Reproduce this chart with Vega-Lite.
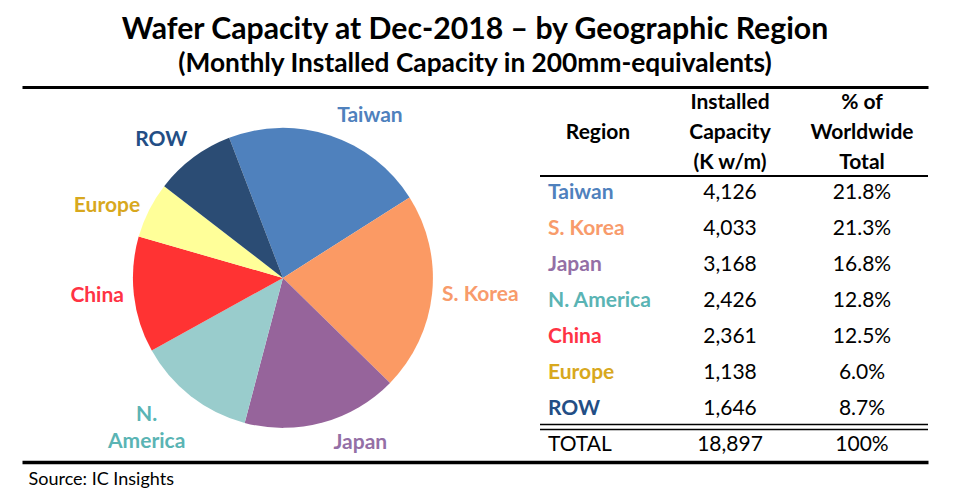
{
  "$schema": "https://vega.github.io/schema/vega-lite/v6.json",
  "width": 906, "height": 375,
  "autosize": {"type": "none"},
  "padding": {"left": 22, "right": 27, "top": 87, "bottom": 38},
  "background": "white",
  "title": {
    "text": "Wafer Capacity at Dec-2018 – by Geographic Region",
    "subtitle": "(Monthly Installed Capacity in 200mm-equivalents)",
    "font": "Lato", "fontSize": 30.2, "fontWeight": "bold", "color": "black",
    "subtitleFont": "Lato", "subtitleFontSize": 26.3, "subtitleFontWeight": "bold", "subtitleColor": "black",
    "subtitlePadding": 6, "offset": 10, "anchor": "middle", "frame": "group"
  },
  "datasets": {
    "regions": [
      {"region": "Taiwan", "pieLabel": "Taiwan", "cap": 4126, "pct": 0.218, "idx": 1},
      {"region": "S. Korea", "pieLabel": "S. Korea", "cap": 4033, "pct": 0.213, "idx": 2},
      {"region": "Japan", "pieLabel": "Japan", "cap": 3168, "pct": 0.168, "idx": 3},
      {"region": "N. America", "pieLabel": "N.\nAmerica", "cap": 2426, "pct": 0.128, "idx": 4},
      {"region": "China", "pieLabel": "China", "cap": 2361, "pct": 0.125, "idx": 5},
      {"region": "Europe", "pieLabel": "Europe", "cap": 1138, "pct": 0.06, "idx": 6},
      {"region": "ROW", "pieLabel": "ROW", "cap": 1646, "pct": 0.087, "idx": 7}
    ],
    "total": [{"region": "TOTAL", "cap": 18897, "pct": 1}],
    "header": [
      {"col": "Region", "line": "2", "label": "Region"},
      {"col": "Capacity", "line": "1", "label": "Installed"},
      {"col": "Capacity", "line": "2", "label": "Capacity"},
      {"col": "Capacity", "line": "3", "label": "(K w/m)"},
      {"col": "Pct", "line": "1", "label": "% of"},
      {"col": "Pct", "line": "2", "label": "Worldwide"},
      {"col": "Pct", "line": "3", "label": "Total"}
    ]
  },
  "layer": [
    {
      "data": {"name": "regions"},
      "mark": {"type": "arc", "radius": 150},
      "encoding": {
        "x": {"datum": "pie", "type": "nominal",
              "scale": {"type": "point", "domain": ["pie"], "padding": 0, "align": 0.288},
              "axis": {"orient": "top", "domainWidth": 3, "domainColor": "black", "labels": false, "ticks": false, "grid": false, "title": null}},
        "y": {"datum": "pie", "type": "nominal", "axis": null, "scale": {"type": "point", "domain": ["pie"], "padding": 0, "align": 0.509}},
        "theta": {"field": "cap", "type": "quantitative", "stack": true, "scale": {"range": [-0.3665, 5.9167]}},
        "order": {"field": "idx", "type": "quantitative"},
        "color": {"field": "region", "type": "nominal", "legend": null,
          "scale": {"domain": ["Taiwan", "S. Korea", "Japan", "N. America", "China", "Europe", "ROW"],
                    "range": ["#4F81BD", "#FB9A64", "#96649B", "#99CCCC", "#FF3333", "#FFFF99", "#2B4C74"]}}
      }
    },
    {
      "data": {"name": "regions"},
      "mark": {"type": "text", "radius": 160, "font": "Lato", "fontSize": 21, "fontWeight": "bold", "align": "left", "baseline": "bottom", "dx": 4},
      "encoding": {
        "x": {"datum": "pie", "type": "nominal",
              "scale": {"type": "point", "domain": ["pie"], "padding": 0, "align": 0.288},
              "axis": {"orient": "bottom", "domainWidth": 3.5, "domainColor": "black", "labels": false, "ticks": false, "grid": false,
                       "title": "Source:  IC Insights", "titleFont": "Lato", "titleFontSize": 18, "titleFontWeight": "normal", "titleColor": "black",
                       "titleAnchor": "start", "titleAlign": "left", "titleX": 6, "titlePadding": 8}},
        "y": {"datum": "pie", "type": "nominal", "axis": null, "scale": {"type": "point", "domain": ["pie"], "padding": 0, "align": 0.509}},
        "theta": {"field": "cap", "type": "quantitative", "stack": true},
        "order": {"field": "idx", "type": "quantitative"},
        "text": {"condition": {"test": "datum.region == 'Taiwan'", "field": "pieLabel"}, "value": ""},
        "color": {"value": "#4F81BD"}
      }
    },
    {
      "data": {"name": "regions"},
      "mark": {"type": "text", "radius": 160, "font": "Lato", "fontSize": 21, "fontWeight": "bold", "align": "left", "baseline": "middle"},
      "encoding": {
        "x": {"datum": "pie", "type": "nominal", "axis": null, "scale": {"type": "point", "domain": ["pie"], "padding": 0, "align": 0.288}},
        "y": {"datum": "pie", "type": "nominal", "axis": null, "scale": {"type": "point", "domain": ["pie"], "padding": 0, "align": 0.509}},
        "theta": {"field": "cap", "type": "quantitative", "stack": true},
        "order": {"field": "idx", "type": "quantitative"},
        "text": {"condition": {"test": "datum.region == 'S. Korea'", "field": "pieLabel"}, "value": ""},
        "color": {"value": "#F89B6B"}
      }
    },
    {
      "data": {"name": "regions"},
      "mark": {"type": "text", "radius": 160, "font": "Lato", "fontSize": 21, "fontWeight": "bold", "align": "left", "baseline": "top", "dx": 8},
      "encoding": {
        "x": {"datum": "pie", "type": "nominal", "axis": null, "scale": {"type": "point", "domain": ["pie"], "padding": 0, "align": 0.288}},
        "y": {"datum": "pie", "type": "nominal", "axis": null, "scale": {"type": "point", "domain": ["pie"], "padding": 0, "align": 0.509}},
        "theta": {"field": "cap", "type": "quantitative", "stack": true},
        "order": {"field": "idx", "type": "quantitative"},
        "text": {"condition": {"test": "datum.region == 'Japan'", "field": "pieLabel"}, "value": ""},
        "color": {"value": "#946FA6"}
      }
    },
    {
      "data": {"name": "regions"},
      "mark": {"type": "text", "radius": 160, "font": "Lato", "fontSize": 21, "fontWeight": "bold", "align": "center", "baseline": "top", "dx": -38, "lineBreak": "\n", "lineHeight": 27},
      "encoding": {
        "x": {"datum": "pie", "type": "nominal", "axis": null, "scale": {"type": "point", "domain": ["pie"], "padding": 0, "align": 0.288}},
        "y": {"datum": "pie", "type": "nominal", "axis": null, "scale": {"type": "point", "domain": ["pie"], "padding": 0, "align": 0.509}},
        "theta": {"field": "cap", "type": "quantitative", "stack": true},
        "order": {"field": "idx", "type": "quantitative"},
        "text": {"condition": {"test": "datum.region == 'N. America'", "field": "pieLabel"}, "value": ""},
        "color": {"value": "#5AB4B4"}
      }
    },
    {
      "data": {"name": "regions"},
      "mark": {"type": "text", "radius": 160, "font": "Lato", "fontSize": 21, "fontWeight": "bold", "align": "right", "baseline": "middle"},
      "encoding": {
        "x": {"datum": "pie", "type": "nominal", "axis": null, "scale": {"type": "point", "domain": ["pie"], "padding": 0, "align": 0.288}},
        "y": {"datum": "pie", "type": "nominal", "axis": null, "scale": {"type": "point", "domain": ["pie"], "padding": 0, "align": 0.509}},
        "theta": {"field": "cap", "type": "quantitative", "stack": true},
        "order": {"field": "idx", "type": "quantitative"},
        "text": {"condition": {"test": "datum.region == 'China' || datum.region == 'Europe'", "field": "pieLabel"}, "value": ""},
        "color": {"field": "region", "type": "nominal", "legend": null,
          "scale": {"domain": ["China", "Europe"], "range": ["#FF3344", "#D8A81E"]}}
      }
    },
    {
      "data": {"name": "regions"},
      "mark": {"type": "text", "radius": 160, "font": "Lato", "fontSize": 21, "fontWeight": "bold", "align": "right", "baseline": "bottom"},
      "encoding": {
        "x": {"datum": "pie", "type": "nominal", "axis": null, "scale": {"type": "point", "domain": ["pie"], "padding": 0, "align": 0.288}},
        "y": {"datum": "pie", "type": "nominal", "axis": null, "scale": {"type": "point", "domain": ["pie"], "padding": 0, "align": 0.509}},
        "theta": {"field": "cap", "type": "quantitative", "stack": true},
        "order": {"field": "idx", "type": "quantitative"},
        "text": {"condition": {"test": "datum.region == 'ROW'", "field": "pieLabel"}, "value": ""},
        "color": {"value": "#234E85"}
      }
    },
    {
      "data": {"name": "header"},
      "mark": {"type": "text", "font": "Lato", "fontSize": 21, "fontWeight": "bold", "color": "black", "baseline": "middle", "align": "center"},
      "encoding": {
        "x": {"field": "col", "type": "nominal", "axis": null,
              "scale": {"type": "point", "domain": ["Region", "Capacity", "Pct"], "range": [576, 840], "padding": 0}},
        "y": {"field": "line", "type": "ordinal", "axis": null,
              "scale": {"type": "point", "domain": ["1", "2", "3"], "range": [16, 76], "padding": 0}},
        "text": {"field": "label"}
      }
    },
    {
      "data": {"name": "regions"},
      "mark": {"type": "text", "font": "Lato", "fontSize": 21, "fontWeight": "bold", "align": "left", "dx": -50, "baseline": "middle"},
      "encoding": {
        "x": {"datum": "Region", "type": "nominal", "axis": null,
              "scale": {"type": "point", "domain": ["Region", "Capacity", "Pct"], "range": [576, 840], "padding": 0}},
        "y": {"field": "region", "type": "nominal", "axis": null,
              "scale": {"type": "point", "range": [106, 358], "padding": 0,
                        "domain": ["Taiwan", "S. Korea", "Japan", "N. America", "China", "Europe", "ROW", "TOTAL"]}},
        "text": {"field": "region"},
        "color": {"field": "region", "type": "nominal", "legend": null,
          "scale": {"domain": ["Taiwan", "S. Korea", "Japan", "N. America", "China", "Europe", "ROW"],
                    "range": ["#4F81BD", "#F89B6B", "#946FA6", "#5AB4B4", "#FF3344", "#D8A81E", "#234E85"]}}
      }
    },
    {
      "data": {"name": "regions"},
      "mark": {"type": "text", "font": "Lato", "fontSize": 21, "color": "black", "align": "center", "baseline": "middle"},
      "encoding": {
        "x": {"datum": "Capacity", "type": "nominal", "axis": null,
              "scale": {"type": "point", "domain": ["Region", "Capacity", "Pct"], "range": [576, 840], "padding": 0}},
        "y": {"field": "region", "type": "nominal", "axis": null,
              "scale": {"type": "point", "range": [106, 358], "padding": 0,
                        "domain": ["Taiwan", "S. Korea", "Japan", "N. America", "China", "Europe", "ROW", "TOTAL"]}},
        "text": {"field": "cap", "type": "quantitative", "format": ","}
      }
    },
    {
      "data": {"name": "regions"},
      "mark": {"type": "text", "font": "Lato", "fontSize": 21, "color": "black", "align": "center", "baseline": "middle"},
      "encoding": {
        "x": {"datum": "Pct", "type": "nominal", "axis": null,
              "scale": {"type": "point", "domain": ["Region", "Capacity", "Pct"], "range": [576, 840], "padding": 0}},
        "y": {"field": "region", "type": "nominal", "axis": null,
              "scale": {"type": "point", "range": [106, 358], "padding": 0,
                        "domain": ["Taiwan", "S. Korea", "Japan", "N. America", "China", "Europe", "ROW", "TOTAL"]}},
        "text": {"field": "pct", "type": "quantitative", "format": ".1%"}
      }
    },
    {
      "data": {"name": "total"},
      "mark": {"type": "text", "font": "Lato", "fontSize": 21, "color": "black", "align": "left", "dx": -50, "baseline": "middle"},
      "encoding": {
        "x": {"datum": "Region", "type": "nominal", "axis": null,
              "scale": {"type": "point", "domain": ["Region", "Capacity", "Pct"], "range": [576, 840], "padding": 0}},
        "y": {"field": "region", "type": "nominal", "axis": null,
              "scale": {"type": "point", "range": [106, 358], "padding": 0,
                        "domain": ["Taiwan", "S. Korea", "Japan", "N. America", "China", "Europe", "ROW", "TOTAL"]}},
        "text": {"field": "region"}
      }
    },
    {
      "data": {"name": "total"},
      "mark": {"type": "text", "font": "Lato", "fontSize": 21, "color": "black", "align": "center", "baseline": "middle"},
      "encoding": {
        "x": {"datum": "Capacity", "type": "nominal", "axis": null,
              "scale": {"type": "point", "domain": ["Region", "Capacity", "Pct"], "range": [576, 840], "padding": 0}},
        "y": {"field": "region", "type": "nominal", "axis": null,
              "scale": {"type": "point", "range": [106, 358], "padding": 0,
                        "domain": ["Taiwan", "S. Korea", "Japan", "N. America", "China", "Europe", "ROW", "TOTAL"]}},
        "text": {"field": "cap", "type": "quantitative", "format": ","}
      }
    },
    {
      "data": {"name": "total"},
      "mark": {"type": "text", "font": "Lato", "fontSize": 21, "color": "black", "align": "center", "baseline": "middle"},
      "encoding": {
        "x": {"datum": "Pct", "type": "nominal", "axis": null,
              "scale": {"type": "point", "domain": ["Region", "Capacity", "Pct"], "range": [576, 840], "padding": 0}},
        "y": {"field": "region", "type": "nominal", "axis": null,
              "scale": {"type": "point", "range": [106, 358], "padding": 0,
                        "domain": ["Taiwan", "S. Korea", "Japan", "N. America", "China", "Europe", "ROW", "TOTAL"]}},
        "text": {"field": "pct", "type": "quantitative", "format": ".0%"}
      }
    },
    {
      "data": {"name": "total"},
      "mark": {"type": "rule", "color": "black", "strokeWidth": 2, "yOffset": -17, "xOffset": -58, "x2Offset": 66},
      "encoding": {
        "x": {"datum": "Region", "type": "nominal", "axis": null,
              "scale": {"type": "point", "domain": ["Region", "Capacity", "Pct"], "range": [576, 840], "padding": 0}},
        "x2": {"datum": "Pct"},
        "y": {"datum": "Taiwan", "type": "nominal", "axis": null,
              "scale": {"type": "point", "range": [106, 358], "padding": 0,
                        "domain": ["Taiwan", "S. Korea", "Japan", "N. America", "China", "Europe", "ROW", "TOTAL"]}}
      }
    },
    {
      "data": {"name": "total"},
      "mark": {"type": "rule", "color": "black", "strokeWidth": 1.5, "yOffset": 15.5, "xOffset": -58, "x2Offset": 66},
      "encoding": {
        "x": {"datum": "Region", "type": "nominal", "axis": null,
              "scale": {"type": "point", "domain": ["Region", "Capacity", "Pct"], "range": [576, 840], "padding": 0}},
        "x2": {"datum": "Pct"},
        "y": {"datum": "ROW", "type": "nominal", "axis": null,
              "scale": {"type": "point", "range": [106, 358], "padding": 0,
                        "domain": ["Taiwan", "S. Korea", "Japan", "N. America", "China", "Europe", "ROW", "TOTAL"]}}
      }
    },
    {
      "data": {"name": "total"},
      "mark": {"type": "rule", "color": "black", "strokeWidth": 1.5, "yOffset": 20.5, "xOffset": -58, "x2Offset": 66},
      "encoding": {
        "x": {"datum": "Region", "type": "nominal", "axis": null,
              "scale": {"type": "point", "domain": ["Region", "Capacity", "Pct"], "range": [576, 840], "padding": 0}},
        "x2": {"datum": "Pct"},
        "y": {"datum": "ROW", "type": "nominal", "axis": null,
              "scale": {"type": "point", "range": [106, 358], "padding": 0,
                        "domain": ["Taiwan", "S. Korea", "Japan", "N. America", "China", "Europe", "ROW", "TOTAL"]}}
      }
    }
  ],
  "resolve": {"scale": {"x": "independent", "y": "independent", "color": "independent"}, "axis": {"x": "independent", "y": "independent"}},
  "config": {"view": {"stroke": null}, "font": "Lato"}
}
